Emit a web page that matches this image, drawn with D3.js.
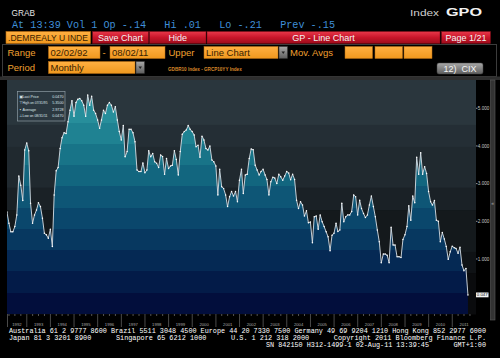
<!DOCTYPE html>
<html><head><meta charset="utf-8">
<script src="https://cdn.jsdelivr.net/npm/d3@7/dist/d3.min.js"></script>
<style>
html,body{margin:0;padding:0;background:#000;}
svg{display:block;}
</style></head><body>
<svg id="c" width="500" height="358"></svg>
<script>
// ---------------- DATA (monthly, month-end, Feb 1992 .. Aug 2011) ----------------
const v1992 = [2.25, 1.95, 1.72, 1.72, 1.86, 2.17, 3.2, 2.96, 2.55, 3.89, 4.08]; // Feb-Dec
const v1993 = [3.87, 2.48, 1.95, 2.17, 2.3, 2.49, 2.39, 2.08, 1.68, 1.64, 1.55, 1.79];
const v1994 = [1.33, 2.7, 3.34, 3.43, 3.93, 4.22, 4.35, 4.33, 4.64, 4.95, 5.2, 4.79];
const v1995 = [5.15, 5.24, 5.26, 5.2, 5.08, 4.79, 5.35, 5.08, 5.32, 4.95, 4.86, 4.69];
const v1996 = [4.47, 4.69, 4.95, 4.86, 5.08, 5.15, 5.08, 4.9, 5.04, 4.69, 4.38, 4.16];
const v1997 = [4.54, 3.71, 3.85, 4.44, 4.44, 4.35, 4.11, 3.36, 3.32, 3.32, 3.55, 3.29];
const v1998 = [3.36, 3.87, 3.71, 3.8, 3.58, 3.54, 3.43, 3.76, 3.72, 3.25, 3.67, 3.4];
const v1999 = [3.47, 3.49, 3.87, 3.64, 3.23, 3.85, 4.31, 4.38, 4.42, 4.54, 4.44, 4.38];
const v2000 = [4.29, 3.98, 4.02, 3.7, 4.26, 4.16, 3.93, 3.89, 4.0, 3.63, 3.58, 3.47];
const v2001 = [2.7, 3.38, 2.92, 2.87, 2.7, 2.39, 2.65, 2.79, 2.67, 2.79, 2.52, 3.09];
const v2002 = [3.38, 2.74, 3.23, 3.25, 3.67, 3.92, 3.9, 3.49, 3.36, 3.23, 3.32, 3.38];
const v2003 = [3.23, 3.11, 2.7, 3.05, 3.17, 3.15, 3.0, 3.25, 3.18, 3.09, 3.2, 3.32];
const v2004 = [3.28, 3.1, 3.25, 3.11, 2.56, 2.34, 2.52, 2.43, 2.14, 2.28, 1.96, 1.98];
const v2005 = [1.43, 2.12, 2.14, 1.79, 2.17, 1.99, 1.86, 1.72, 1.59, 1.22, 1.63, 1.68];
const v2006 = [1.95, 1.73, 1.77, 2.48, 1.99, 2.12, 2.17, 2.17, 2.26, 2.7, 2.65, 2.17];
const v2007 = [2.56, 2.34, 2.21, 2.1, 2.17, 2.43, 2.67, 2.39, 2.12, 1.77, 1.46, 0.9];
const v2008 = [1.13, 1.13, 1.1, 0.9, 1.84, 1.37, 1.37, 1.06, 1.06, 1.04, 1.52, 1.64];
const v2009 = [1.86, 2.41, 2.03, 2.67, 2.49, 3.7, 3.25, 3.82, 3.25, 3.45, 3.27, 2.79];
const v2010 = [2.52, 2.43, 2.55, 2.03, 2.0, 1.46, 1.7, 1.53, 1.33, 0.99, 1.19, 1.34];
const v2011 = [1.3, 1.28, 1.15, 1.31, 0.84, 0.69, 0.75, 0.047]; // Jan-Aug

const yTickValues = [1, 2, 3, 4, 5];
const yearLabels = d3.range(1992, 2012);

const headerLine2 = "At 13:39 Vol 1 Op -.14   Hi .01   Lo -.21   Prev -.15";
const footerLines = [
  "Australia 61 2 9777 8600 Brazil 5511 3048 4500 Europe 44 20 7330 7500 Germany 49 69 9204 1210 Hong Kong 852 2977 6000",
  "Japan 81 3 3201 8900      Singapore 65 6212 1000      U.S. 1 212 318 2000      Copyright 2011 Bloomberg Finance L.P.",
  "SN 842150 H312-1499-1 02-Aug-11 13:39:45      GMT+1:00"
];

// ---------------- BUILD ----------------
const allValues = [].concat(v1992, v1993, v1994, v1995, v1996, v1997, v1998, v1999, v2000,
  v2001, v2002, v2003, v2004, v2005, v2006, v2007, v2008, v2009, v2010, v2011);
const data = allValues.map((v, i) => ({date: new Date(1992, i + 2, 0), value: v}));

const svg = d3.select("#c");
const defs = svg.append("defs");
const P = {left: 7, right: 476, top: 80, bottom: 314};

const x = d3.scaleTime().domain([new Date(1992, 0, 1), new Date(2012, 0, 1)]).range([3.1, 475.9]);
const y = d3.scaleLinear().domain([-0.46, 5.75]).range([P.bottom, P.top]);

svg.append("rect").attr("width", 500).attr("height", 358).attr("fill", "#000");

// ---------- header ----------
const mono = "'Liberation Mono','DejaVu Sans Mono',monospace";
const sans = "'Liberation Sans',Arial,sans-serif";

svg.append("text").attr("x", 11.5).attr("y", 15.5).text("GRAB")
  .attr("font-family", sans).attr("font-size", 9.5).attr("fill", "#e4e4e4")
  .attr("textLength", 23.5).attr("lengthAdjust", "spacingAndGlyphs");
svg.append("text").attr("x", 410).attr("y", 15.5).text("Index")
  .attr("font-family", sans).attr("font-size", 9.5).attr("fill", "#cfcfcf")
  .attr("textLength", 29).attr("lengthAdjust", "spacingAndGlyphs");
svg.append("text").attr("x", 446).attr("y", 15.5).text("GPO")
  .attr("font-family", sans).attr("font-weight", "bold").attr("font-size", 11.5).attr("fill", "#f2f2f2")
  .attr("textLength", 36).attr("lengthAdjust", "spacingAndGlyphs");
svg.append("text").attr("x", 12).attr("y", 27.5).text(headerLine2)
  .attr("font-family", mono).attr("font-size", 10).attr("fill", "#3f8fd8")
  .style("white-space", "pre").attr("textLength", 323).attr("lengthAdjust", "spacingAndGlyphs");

// gradients
const rg = defs.append("linearGradient").attr("id", "red").attr("x1", 0).attr("y1", 0).attr("x2", 0).attr("y2", 1);
rg.append("stop").attr("offset", 0).attr("stop-color", "#e8384a");
rg.append("stop").attr("offset", 0.5).attr("stop-color", "#c8162a");
rg.append("stop").attr("offset", 1).attr("stop-color", "#9e0c1c");
const og = defs.append("linearGradient").attr("id", "org").attr("x1", 0).attr("y1", 0).attr("x2", 0).attr("y2", 1);
og.append("stop").attr("offset", 0).attr("stop-color", "#ffb042");
og.append("stop").attr("offset", 1).attr("stop-color", "#f0981e");
const gg = defs.append("linearGradient").attr("id", "gry").attr("x1", 0).attr("y1", 0).attr("x2", 0).attr("y2", 1);
gg.append("stop").attr("offset", 0).attr("stop-color", "#a8a8a8");
gg.append("stop").attr("offset", 1).attr("stop-color", "#5e5e5e");

// row 3
svg.append("rect").attr("x", 6).attr("y", 31.5).attr("width", 84.5).attr("height", 12)
  .attr("fill", "url(#org)").attr("stroke", "#b86c10").attr("stroke-width", 0.6);
svg.append("text").attr("x", 8).attr("y", 41).text(".DEMREALY U INDE")
  .attr("font-family", sans).attr("font-size", 9).attr("fill", "#3a2200")
  .attr("textLength", 80).attr("lengthAdjust", "spacingAndGlyphs");
const redButtons = [
  {x0: 92.5, x1: 148.5, label: "Save Chart"},
  {x0: 149.5, x1: 206, label: "Hide"},
  {x0: 207, x1: 440, label: "GP - Line Chart"},
  {x0: 441.5, x1: 490.5, label: "Page 1/21"}
];
redButtons.forEach(b => {
  svg.append("rect").attr("x", b.x0).attr("y", 31.5).attr("width", b.x1 - b.x0).attr("height", 12)
    .attr("fill", "url(#red)").attr("stroke", "#7a0a14").attr("stroke-width", 0.5);
  svg.append("text").attr("x", (b.x0 + b.x1) / 2).attr("y", 41).text(b.label)
    .attr("text-anchor", "middle").attr("font-family", sans).attr("font-size", 9).attr("fill", "#f4f4f4");
});

// frame for rows 4-5
svg.append("rect").attr("x", 2.5).attr("y", 44.5).attr("width", 494).attr("height", 32)
  .attr("fill", "#000").attr("stroke", "#3c3c3c").attr("stroke-width", 1);

const orangeLbl = (tx, ty, t) => svg.append("text").attr("x", tx).attr("y", ty).text(t)
  .attr("font-family", sans).attr("font-size", 9.5).attr("fill", "#f0a030");
const orangeBox = (x0, x1, y0, t) => {
  svg.append("rect").attr("x", x0).attr("y", y0).attr("width", x1 - x0).attr("height", 12)
    .attr("fill", "url(#org)").attr("stroke", "#b86c10").attr("stroke-width", 0.5);
  if (t) svg.append("text").attr("x", x0 + 2).attr("y", y0 + 9.5).text(t)
    .attr("font-family", sans).attr("font-size", 9.5).attr("fill", "#3a2200");
};
const dropBtn = (x0, y0) => {
  svg.append("rect").attr("x", x0).attr("y", y0).attr("width", 8.5).attr("height", 12)
    .attr("fill", "url(#gry)").attr("stroke", "#333").attr("stroke-width", 0.5);
  svg.append("path").attr("d", `M${x0 + 2.5},${y0 + 5} h3.5 l-1.75,2.5 z`).attr("fill", "#222");
};
orangeLbl(7.5, 55.5, "Range");
orangeBox(48.5, 100, 46.5, "02/02/92");
svg.append("text").attr("x", 102.5).attr("y", 55.5).text("-").attr("font-family", sans)
  .attr("font-size", 9.5).attr("fill", "#f0a030");
orangeBox(110, 165, 46.5, "08/02/11");
orangeLbl(168.5, 55.5, "Upper");
orangeBox(204, 278, 46.5, "Line Chart");
dropBtn(279, 46.5);
orangeLbl(290, 55.5, "Mov. Avgs");
orangeBox(345, 372.5, 46.5, "");
orangeBox(375, 402.5, 46.5, "");
orangeBox(404, 432, 46.5, "");

orangeLbl(7.5, 71, "Period");
orangeBox(48.5, 135, 61.5, "Monthly");
dropBtn(136, 61.5);
svg.append("text").attr("x", 168).attr("y", 70.5).text("GDBR10 Index - GRCP10YY Index")
  .attr("font-family", sans).attr("font-weight", "bold").attr("font-size", 4.6).attr("fill", "#d9892a");
svg.append("rect").attr("x", 437).attr("y", 63).attr("width", 46).attr("height", 11).attr("rx", 2)
  .attr("fill", "url(#gry)").attr("stroke", "#444").attr("stroke-width", 0.5);
svg.append("text").attr("x", 460).attr("y", 71.8).text("12)  CIX").attr("text-anchor", "middle")
  .attr("font-family", sans).attr("font-size", 9).attr("fill", "#f4f4f4").style("white-space", "pre");

svg.append("rect").attr("x", 0).attr("y", 76.5).attr("width", 500).attr("height", 3.5).attr("fill", "#2e2e2e");

// ---------- plot background bands ----------
const H = P.bottom - P.top;
const bgFracs = [0, 0.192, 0.286, 0.46, 0.556, 0.735, 0.825, 1];
const bgCols = ["#2a363d", "#242e35", "#20292f", "#1a2126", "#14191c", "#0f1215", "#0a0b0d"];
bgCols.forEach((c, i) => {
  svg.append("rect").attr("x", P.left).attr("width", P.right - P.left)
    .attr("y", P.top + bgFracs[i] * H).attr("height", (bgFracs[i + 1] - bgFracs[i]) * H + 0.5)
    .attr("fill", c);
});

// banded fill gradient
const fillCols = ["#2f9aa4", "#278e9b", "#1f8292", "#187488", "#12667f", "#0e5676", "#0a476c",
  "#073860", "#052954", "#031b48", "#020e3c"];
const fg = defs.append("linearGradient").attr("id", "fillGrad").attr("gradientUnits", "userSpaceOnUse")
  .attr("x1", 0).attr("y1", P.top).attr("x2", 0).attr("y2", P.bottom);
fillCols.forEach((c, k) => {
  fg.append("stop").attr("offset", k / fillCols.length).attr("stop-color", c);
  fg.append("stop").attr("offset", (k + 1) / fillCols.length).attr("stop-color", c);
});

defs.append("clipPath").attr("id", "plotClip").append("rect")
  .attr("x", P.left).attr("y", P.top).attr("width", P.right - P.left).attr("height", H);

const g = svg.append("g").attr("clip-path", "url(#plotClip)");
const area = d3.area().x(d => x(d.date)).y0(P.bottom).y1(d => y(d.value));
const line = d3.line().x(d => x(d.date)).y(d => y(d.value));
g.append("path").datum(data).attr("d", area).attr("fill", "url(#fillGrad)");
g.append("path").datum(data).attr("d", line).attr("fill", "none").attr("stroke", "#d6dee4").attr("stroke-width", 0.9);
g.selectAll("circle.pt").data(data).join("circle").attr("class", "pt")
  .attr("cx", d => x(d.date)).attr("cy", d => y(d.value)).attr("r", 0.75).attr("fill", "#ffffff");

// ---------- legend ----------
const last = data[data.length - 1];
const hi = data.reduce((a, b) => (b.value > a.value ? b : a));
const lo = data.reduce((a, b) => (b.value < a.value ? b : a));
const avg = d3.mean(data, d => d.value);
const fmtD = d3.timeFormat("%m/%d/%y");
const fmtV = d3.format(".4f");
const legendRows = [
  {icon: "\u25A3", label: "Last Price", val: fmtV(last.value)},
  {icon: "\u22A4", label: "High on " + fmtD(hi.date), val: fmtV(hi.value)},
  {icon: "\u2022", label: "Average", val: fmtV(avg)},
  {icon: "\u22A5", label: "Low on " + fmtD(lo.date), val: fmtV(lo.value)}
];
svg.append("rect").attr("x", 17.5).attr("y", 91.5).attr("width", 47.5).attr("height", 29.5)
  .attr("fill", "#2b3840").attr("fill-opacity", 0.9).attr("stroke", "#8d9ca4").attr("stroke-width", 0.7);
legendRows.forEach((r, i) => {
  const ty = 98 + i * 6.3;
  svg.append("text").attr("x", 19.3).attr("y", ty).text(r.icon)
    .attr("font-family", "'DejaVu Sans',sans-serif").attr("font-size", 3.8).attr("fill", "#dfe6ea");
  const lt = svg.append("text").attr("x", 22.5).attr("y", ty).text(r.label)
    .attr("font-family", sans).attr("font-size", 3.7).attr("fill", "#dfe6ea");
  if (lt.node().getComputedTextLength() > 25) lt.attr("textLength", 25).attr("lengthAdjust", "spacingAndGlyphs");
  svg.append("text").attr("x", 63.5).attr("y", ty).text(r.val).attr("text-anchor", "end")
    .attr("font-family", sans).attr("font-size", 3.7).attr("fill", "#dfe6ea");
});

// ---------- right axis ----------
const yAxis = svg.append("g");
yTickValues.forEach(v => {
  yAxis.append("line").attr("x1", P.right).attr("x2", P.right + 1.5)
    .attr("y1", y(v)).attr("y2", y(v)).attr("stroke", "#bbbbbb").attr("stroke-width", 0.8);
  yAxis.append("text").attr("x", P.right + 1.8).attr("y", y(v) + 1.6).text(d3.format(".3f")(v))
    .attr("font-family", sans).attr("font-size", 4.6).attr("fill", "#c8c8c8");
});
svg.append("rect").attr("x", P.right).attr("y", y(last.value) - 2.4).attr("width", 12.5).attr("height", 4.8)
  .attr("fill", "#f4f4f4");
svg.append("text").attr("x", P.right + 6.25).attr("y", y(last.value) + 1.6).text(d3.format(".3f")(last.value))
  .attr("text-anchor", "middle").attr("font-family", sans).attr("font-size", 4.4).attr("fill", "#111");

// scrollbar
svg.append("rect").attr("x", 490.5).attr("y", 80).attr("width", 4.5).attr("height", 240)
  .attr("fill", "#333").attr("stroke", "#5a5a5a").attr("stroke-width", 0.6);
svg.append("text").attr("x", 492.75).attr("y", 204.5).text("\u00AB").attr("text-anchor", "middle")
  .attr("font-family", sans).attr("font-size", 5).attr("fill", "#aaa");

// ---------- bottom axis ----------
const xAxis = svg.append("g");
const yearStarts = yearLabels.map(yr => new Date(yr, 0, 1));
yearStarts.slice(1).forEach(d => {
  xAxis.append("line").attr("x1", x(d)).attr("x2", x(d)).attr("y1", P.bottom).attr("y2", 327)
    .attr("stroke", "#6a6a6a").attr("stroke-width", 0.7);
});
xAxis.append("line").attr("x1", P.left + 0.5).attr("x2", P.left + 0.5).attr("y1", P.bottom).attr("y2", 327)
  .attr("stroke", "#6a6a6a").attr("stroke-width", 0.7);
d3.timeMonth.every(3).range(new Date(1992, 3, 1), new Date(2012, 0, 1)).forEach(d => {
  if (d.getMonth() === 0) return;
  xAxis.append("line").attr("x1", x(d)).attr("x2", x(d)).attr("y1", P.bottom).attr("y2", P.bottom + 2)
    .attr("stroke", "#8a8a8a").attr("stroke-width", 0.6);
});
yearLabels.forEach(yr => {
  const a = Math.max(P.left, x(new Date(yr, 0, 1)));
  const b = Math.min(P.right, x(new Date(yr + 1, 0, 1)));
  xAxis.append("text").attr("x", (a + b) / 2).attr("y", 325.5).text(yr).attr("text-anchor", "middle")
    .attr("font-family", sans).attr("font-size", 4.2).attr("fill", "#a8a8a8");
});

// ---------- footer ----------
const footerX = [9, 9, 266];
const footerY = [333, 340, 347];
const footerLen = [477, 477, 220];
footerLines.forEach((t, i) => {
  svg.append("text").attr("x", footerX[i]).attr("y", footerY[i]).text(t)
    .attr("font-family", mono).attr("font-size", 6.9).attr("fill", "#ffffff")
    .style("white-space", "pre").attr("textLength", footerLen[i]).attr("lengthAdjust", "spacingAndGlyphs");
});
</script>
</body></html>
